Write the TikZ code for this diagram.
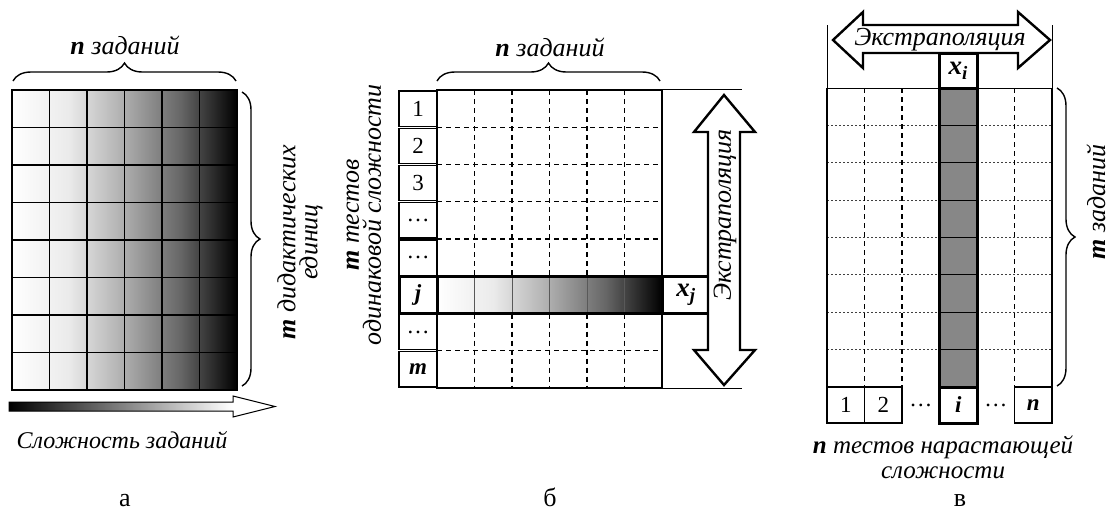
\documentclass[tikz,border=0pt]{standalone}
\usepackage{fontspec}
\setmainfont{Liberation Serif}
\usetikzlibrary{decorations.pathreplacing}
\pgfdeclarehorizontalshading{cellshade}{100bp}{color(0bp)=(white); color(25bp)=(white); color(37.5bp)=(white!92!black); color(50bp)=(white!68!black); color(62.5bp)=(white!40!black); color(75bp)=(black); color(100bp)=(black)}
\pgfdeclarehorizontalshading{arrowshade}{100bp}{color(0bp)=(black); color(25bp)=(black); color(46bp)=(white!50!black); color(67bp)=(white); color(100bp)=(white)}
\definecolor{colgray}{RGB}{135,135,135}
\begin{document}
\begin{tikzpicture}[x=1pt,y=-1pt,
  every node/.style={inner sep=0pt},
  lbl/.style={font=\fontsize{26}{22}\selectfont\itshape},
  slbl/.style={font=\fontsize{24}{22}\selectfont\itshape},
  cellnum/.style={font=\fontsize{23}{23}\selectfont},
  cellbi/.style={font=\fontsize{23}{23}\selectfont\bfseries\itshape},
  xlbl/.style={font=\fontsize{27}{27}\selectfont\bfseries\itshape},
  panel/.style={font=\fontsize{26}{26}\selectfont, anchor=base},
  brace/.style={decorate,decoration={brace,amplitude=18pt},line width=1.4pt},
  gline/.style={line width=1.2pt},
  dgrid/.style={dash pattern=on 5pt off 4pt, line width=1.1pt},
  dotgrid/.style={dash pattern=on 2pt off 2pt, line width=0.9pt, black!75},
  thickb/.style={line width=3pt},
  bigarrow/.style={fill=white, draw=black, line width=2.4pt, line join=miter}]
\path[use as bounding box] (0,0) rectangle (1112,512);

% ---------------- panel a ----------------
\shade[shading=cellshade] (12,90) rectangle (237,390);
\foreach \i in {1,...,5} \draw[gline] ({12+37.5*\i},90) -- ({12+37.5*\i},390);
\foreach \j in {1,...,7} \draw[gline] (12,{90+37.5*\j}) -- (237,{90+37.5*\j});
\draw[line width=1.5pt] (12,90) rectangle (237,390);
\draw[brace] (13,81) -- (236,81);
\node[lbl] (na) at (125,45) {\textbf{n} заданий};
\draw[brace] (242,92) -- (242,386);
\node[lbl, rotate=90, align=center] (ma) at (300,242) {\textbf{m} дидактических\\единиц};
\shadedraw[shading=arrowshade, line width=1pt] (9,402) -- (233,402) -- (233,396) -- (275,406.5) -- (233,417) -- (233,411) -- (9,411) -- cycle;
\node[slbl] (sa) at (122,440) {Сложность заданий};
\node[panel] (pa) at (125,506) {а};

% ---------------- panel b ----------------
\foreach \i in {1,...,5} {
  \draw[dgrid] ({437+37.5*\i},90) -- ({437+37.5*\i},276.25);
  \draw[dgrid] ({437+37.5*\i},313.5) -- ({437+37.5*\i},388);
}
\foreach \y in {127.25,164.5,201.75,239,350.75} \draw[dgrid] (437,\y) -- (662,\y);
\shade[shading=cellshade] (437,276.25) rectangle (662,313.5);
\foreach \i in {1,...,5} \draw[line width=1pt, black!65] ({437+37.5*\i},276.25) -- ({437+37.5*\i},313.5);
\draw[line width=1.4pt] (437,90) rectangle (662,388);
\draw[line width=2.2pt] (437,90) -- (437,388);
\foreach \k/\t in {0/1,1/2,2/3} \node[cellnum] (b\k) at (418,{90+37.25*\k+18.6}) {\t};
\foreach \k in {3,4,6} \node[cellnum] (b\k) at (418,{90+37.25*\k+18.6}) {…};
\node[cellbi] (b5) at (418,{90+37.25*5+18.6}) {j};
\node[cellbi] (b7) at (418,{90+37.25*7+18.6}) {m};
\foreach \k in {0,...,7} \draw[line width=1.3pt] (399,{90+37.25*\k+1}) rectangle (437,{90+37.25*\k+37.25-1});
\draw[thickb] (399,276.25) rectangle (710,313.5);
\draw[thickb] (437,276.25) -- (437,313.5);
\draw[thickb] (662,276.25) -- (662,313.5);
\node[xlbl] (xj) at (686,295) {x\textsubscript{j}};
\draw[line width=1pt] (662,89) -- (742,89);
\draw[line width=1pt] (662,388) -- (742,388);
\draw[bigarrow] (724,95) -- (755,132) -- (740,132) -- (740,350) -- (755,350) -- (724,385) -- (694,350) -- (708,350) -- (708,132) -- (694,132) -- cycle;
\node[lbl, rotate=90] (eb) at (725,215) {Экстраполяция};
\draw[brace] (437,81) -- (660,81);
\node[lbl] (nb) at (550,47) {\textbf{n} заданий};
\node[lbl, rotate=90, align=center] (mb) at (364,215) {\textbf{m} тестов\\одинаковой сложности};
\node[panel] (pb) at (550,506) {б};

% ---------------- panel c ----------------
\fill[colgray] (939.5,88) rectangle (977,387);
\foreach \j in {1,...,7} {
  \draw[dotgrid] (827,{88+37.375*\j}) -- (939.5,{88+37.375*\j});
  \draw[dotgrid] (977,{88+37.375*\j}) -- (1052,{88+37.375*\j});
  \draw[line width=1pt] (939.5,{88+37.375*\j}) -- (977,{88+37.375*\j});
}
\foreach \x in {864.5,902,1014.5} \draw[dgrid] (\x,88) -- (\x,387);
\draw[line width=1pt] (827,88) -- (1052,88);
\draw[line width=1.5pt] (827,88) -- (827,423);
\draw[line width=1.5pt] (1052,88) -- (1052,423);
\draw[line width=1.5pt] (827,387) rectangle (864.5,423);
\draw[line width=1.5pt] (864.5,387) rectangle (902,423);
\draw[line width=1.5pt] (1014.5,387) rectangle (1052,423);
\draw[line width=2.6pt] (827,387) -- (902,387);
\draw[line width=2.6pt] (1014.5,387) -- (1052,387);
\draw[thickb] (939.5,53) rectangle (977,423);
\draw[thickb] (939.5,88) -- (977,88);
\draw[thickb] (939.5,387) -- (977,387);
\node[cellnum] (c1) at (845.75,405) {1};
\node[cellnum] (c2) at (883.25,405) {2};
\node[cellnum] (c3) at (920.75,405) {…};
\node[cellbi] (ci) at (958.25,405) {i};
\node[cellnum] (c5) at (995.75,405) {…};
\node[cellbi] (cn) at (1033.25,405) {n};
\node[xlbl] (xi) at (958.25,71) {x\textsubscript{i}};
\draw[line width=1pt] (827,25) -- (827,88);
\draw[line width=1pt] (1052,25) -- (1052,88);
\draw[bigarrow] (833,40) -- (863,12) -- (863,25) -- (1018,25) -- (1018,12) -- (1050,40) -- (1018,68) -- (1018,53) -- (863,53) -- (863,68) -- cycle;
\node[lbl] (ec) at (940,40) {Экстраполяция};
\draw[brace] (1057,88) -- (1057,386);
\node[lbl, rotate=90] (mc) at (1096,202) {\textbf{m} заданий};
\node[lbl, align=center, font=\fontsize{25}{25}\selectfont\itshape] (tc) at (943,457) {\textbf{n} тестов нарастающей\\сложности};
\node[panel] (pc) at (960,506) {в};
\end{tikzpicture}
\end{document}
